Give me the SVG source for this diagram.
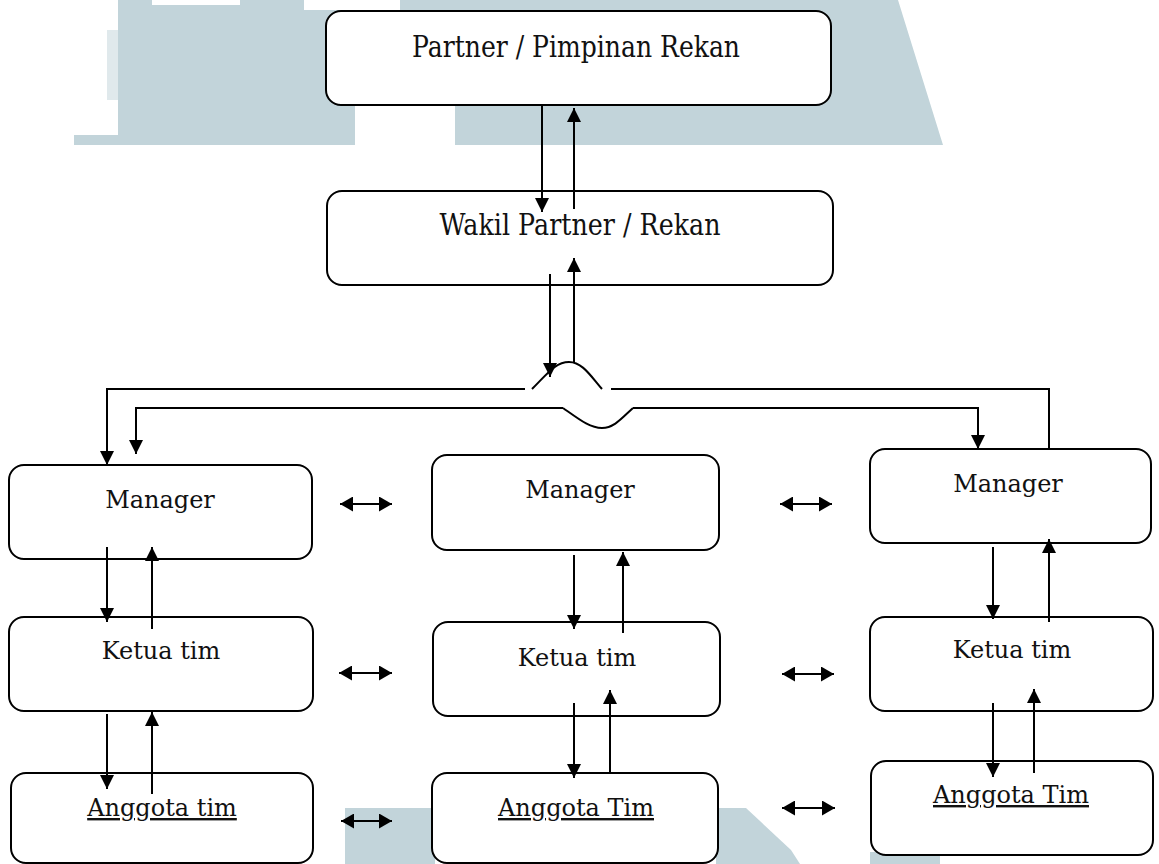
<svg xmlns="http://www.w3.org/2000/svg" width="1159" height="864" viewBox="0 0 1159 864">
<defs>
<style>
.box{fill:#fff;stroke:#000;stroke-width:2}
.t{font-family:"DejaVu Serif","Liberation Serif",serif;font-size:24px;fill:#111;text-anchor:middle}
.tb{font-family:"DejaVu Serif","Liberation Serif",serif;font-size:30px;fill:#111;text-anchor:middle}
.u{text-decoration:underline}
.c{fill:none;stroke:#000;stroke-width:2}
.a{marker-end:url(#ah)}
.d{marker-start:url(#dh);marker-end:url(#dh)}
.wm{fill:#c2d4da}
</style>
<marker id="ah" viewBox="0 0 14 14" refX="14" refY="7" markerWidth="14" markerHeight="14" markerUnits="userSpaceOnUse" orient="auto"><path d="M0,0 L14,7 L0,14 z" fill="#000"/></marker>
<marker id="dh" viewBox="0 0 13 15" refX="13" refY="7.5" markerWidth="13" markerHeight="15" markerUnits="userSpaceOnUse" orient="auto-start-reverse"><path d="M0,0 L13,7.5 L0,15 z" fill="#000"/></marker>
</defs>
<g id="watermark">
<polygon class="wm" points="118,0 152,0 152,5 240,5 240,0 304,0 304,10 400,10 400,0 898,0 943,145 455,145 455,105 355,105 355,145 74,145 74,135 118,135"/>
<rect class="wm" x="107" y="30" width="11" height="70" opacity="0.5"/>
<rect class="wm" x="345" y="808" width="90" height="56"/>
<polygon class="wm" points="716,808 746,808 791,850 800,864 716,864"/>
<rect class="wm" x="870" y="852" width="70" height="12"/>
</g>
<g id="partner"><rect class="box" x="326" y="11" width="505" height="94" rx="15"/><text class="tb" x="576" y="57" textLength="328" lengthAdjust="spacingAndGlyphs">Partner / Pimpinan Rekan</text></g>
<g id="wakil"><rect class="box" x="327" y="191" width="506" height="94" rx="15"/><text class="tb" x="580" y="235" textLength="281" lengthAdjust="spacingAndGlyphs">Wakil Partner / Rekan</text></g>
<g id="manager1"><rect class="box" x="9" y="465" width="303" height="94" rx="15"/><text class="t" x="160" y="508">Manager</text></g>
<g id="manager2"><rect class="box" x="432" y="455" width="287" height="95" rx="15"/><text class="t" x="580" y="498">Manager</text></g>
<g id="manager3"><rect class="box" x="870" y="449" width="281" height="94" rx="15"/><text class="t" x="1008" y="492">Manager</text></g>
<g id="ketua1"><rect class="box" x="9" y="617" width="304" height="94" rx="15"/><text class="t" x="161" y="659">Ketua tim</text></g>
<g id="ketua2"><rect class="box" x="433" y="622" width="287" height="94" rx="15"/><text class="t" x="577" y="666">Ketua tim</text></g>
<g id="ketua3"><rect class="box" x="870" y="617" width="283" height="94" rx="15"/><text class="t" x="1012" y="658">Ketua tim</text></g>
<g id="anggota1"><rect class="box" x="11" y="773" width="302" height="90" rx="15"/><text class="t u" x="162" y="816">Anggota tim</text></g>
<g id="anggota2"><rect class="box" x="432" y="773" width="286" height="90" rx="15"/><text class="t u" x="576" y="816">Anggota Tim</text></g>
<g id="anggota3"><rect class="box" x="871" y="761" width="282" height="94" rx="15"/><text class="t u" x="1011" y="803">Anggota Tim</text></g>
<g id="connectors">
<line class="c a" x1="542" y1="105" x2="542" y2="212"/>
<line class="c a" x1="574" y1="209" x2="574" y2="108"/>
<line class="c a" x1="550" y1="274" x2="550" y2="377"/>
<line class="c a" x1="574" y1="362" x2="574" y2="258"/>
<path class="c a" d="M525,389 L107,389 L107,465"/>
<path class="c" d="M532,389 C548,373 556,362 569,362 C582,362 590,375 602,389"/>
<path class="c" d="M611,389 L1049,389 L1049,449"/>
<path class="c a" d="M563,408 L136,408 L136,454"/>
<path class="c" d="M563,408 C580,420 590,428 602,428 C614,428 622,418 633,408"/>
<path class="c a" d="M633,408 L978,408 L978,449"/>
<line class="c a" x1="107" y1="547" x2="107" y2="622"/>
<line class="c a" x1="152" y1="629" x2="152" y2="547"/>
<line class="c a" x1="107" y1="714" x2="107" y2="789"/>
<line class="c a" x1="152" y1="794" x2="152" y2="712"/>
<line class="c a" x1="574" y1="555" x2="574" y2="629"/>
<line class="c a" x1="623" y1="633" x2="623" y2="552"/>
<line class="c a" x1="574" y1="703" x2="574" y2="778"/>
<line class="c a" x1="610" y1="772" x2="610" y2="690"/>
<line class="c a" x1="993" y1="547" x2="993" y2="619"/>
<line class="c a" x1="1049" y1="622" x2="1049" y2="539"/>
<line class="c a" x1="993" y1="703" x2="993" y2="777"/>
<line class="c a" x1="1034" y1="773" x2="1034" y2="689"/>
<line class="c d" x1="340" y1="504" x2="392" y2="504"/>
<line class="c d" x1="780" y1="504" x2="832" y2="504"/>
<line class="c d" x1="339" y1="673" x2="392" y2="673"/>
<line class="c d" x1="782" y1="674" x2="834" y2="674"/>
<line class="c d" x1="341" y1="821" x2="392" y2="821"/>
<line class="c d" x1="782" y1="808" x2="835" y2="808"/>
</g>
</svg>
